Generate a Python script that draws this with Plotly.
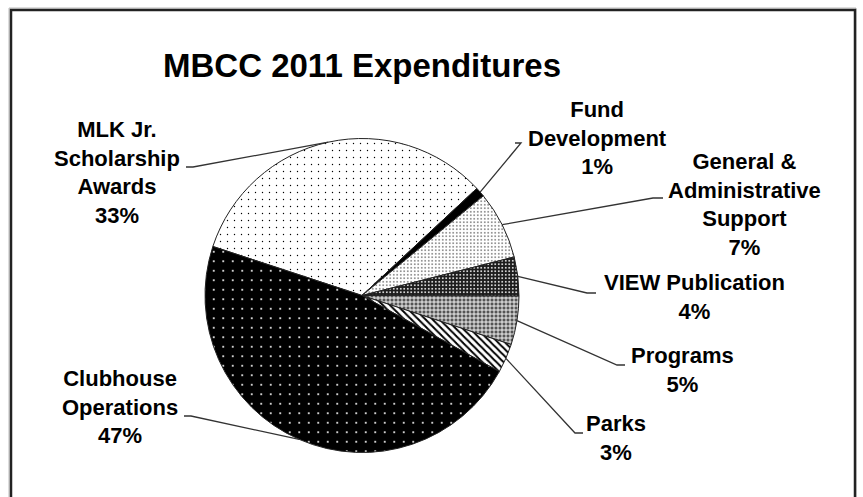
import math
import plotly.graph_objects as go

# ---- data ----
categories = ["MLK Jr. Scholarship Awards", "Fund Development",
              "General & Administrative Support", "VIEW Publication",
              "Programs", "Parks", "Clubhouse Operations"]
values = [33, 1, 7, 4, 5, 3, 47]
label_lines = [["MLK Jr.", "Scholarship", "Awards"], ["Fund", "Development"],
               ["General &", "Administrative", "Support"], ["VIEW Publication"],
               ["Programs"], ["Parks"], ["Clubhouse", "Operations"]]
title_text = "MBCC 2011 Expenditures"

# ---- styles ----
W, H = 863, 497
CX, CY, R = 362, 295.5, 157          # pie centre / radius in pixels
START_DEG = 161.8                     # math angle where the first slice begins

bg_colors = ["white", "black", "white", "#1c1c1c", "#555555", "white", "black"]
fg_colors = ["black", "black", "black", "white", "white", "black", "white"]
shapes_p = [".", "", ".", ".", "+", "\\", "."]
sizes_p = [7, 8, 3.5, 3.5, 4, 5, 9.5]
solid_p = [0.03, 0.3, 0.12, 0.22, 0.4, 0.4, 0.035]

# label block centres (pixels) and leader line ends [text end, elbow]
label_pos = [(117, 172), (597, 138), (744, 204), (694, 297), (682, 370), (616, 438), (120, 407)]
leader_pts = [((186, 167), (193, 167)), ((515, 143), (521, 143)),
              ((663, 198), (653, 198)), ((596, 293), (587, 293)),
              ((625, 365), (617, 365)), ((583, 433), (575, 433)),
              ((184, 416), (191, 416))]


def px(x):
    return x / W


def py(y):
    return 1 - y / H


fig = go.Figure(go.Pie(
    labels=categories, values=values, sort=False, direction="clockwise",
    rotation=90 - START_DEG, textinfo="none", hoverinfo="label+percent",
    domain=dict(x=[px(CX - R), px(CX + R)], y=[py(CY + R), py(CY - R)]),
    marker=dict(colors=bg_colors,
                line=dict(color="#222222", width=1),
                pattern=dict(shape=shapes_p, fgcolor=fg_colors, bgcolor=bg_colors,
                             size=sizes_p, solidity=solid_p, fillmode="replace")),
    showlegend=False,
))

total = sum(values)
shapes = []
annotations = []
cum = 0.0
for i, v in enumerate(values):
    mid = START_DEG - 360 * (cum + v / 2) / total
    cum += v
    tx = CX + R * math.cos(math.radians(mid))
    ty = CY - R * math.sin(math.radians(mid))
    (ex, ey), (bx, by) = leader_pts[i]
    shapes.append(dict(type="path", xref="paper", yref="paper",
                       path=f"M {px(tx)} {py(ty)} L {px(bx)} {py(by)} L {px(ex)} {py(ey)}",
                       line=dict(color="#333333", width=1.3)))
    pct = round(100 * v / total)
    text = "<br>".join(label_lines[i] + [f"{pct}%"])
    lx, ly = label_pos[i]
    annotations.append(dict(x=px(lx), y=py(ly), xref="paper", yref="paper",
                            text=text, showarrow=False, align="center",
                            xanchor="center", yanchor="middle",
                            font=dict(family="Liberation Sans, Arial", size=22,
                                      color="black", weight="bold")))

# frame (light outer edge + dark line)
shapes.append(dict(type="rect", xref="paper", yref="paper",
                   x0=px(9), x1=px(856), y0=-0.05, y1=py(8),
                   line=dict(color="#bbbbbb", width=1)))
shapes.append(dict(type="rect", xref="paper", yref="paper",
                   x0=px(11), x1=px(855), y0=-0.05, y1=py(10),
                   line=dict(color="#222222", width=2.5)))

fig.update_layout(
    width=W, height=H, margin=dict(l=0, r=0, t=0, b=0),
    paper_bgcolor="white", plot_bgcolor="white",
    title=dict(text=title_text, x=px(362), y=py(65), xanchor="center", yanchor="middle",
               font=dict(family="Liberation Sans, Arial", size=33, color="black", weight="bold")),
    shapes=shapes, annotations=annotations,
)

fig.write_html("out.html", config={"displayModeBar": False},
               post_script="document.body.style.margin='0';")
